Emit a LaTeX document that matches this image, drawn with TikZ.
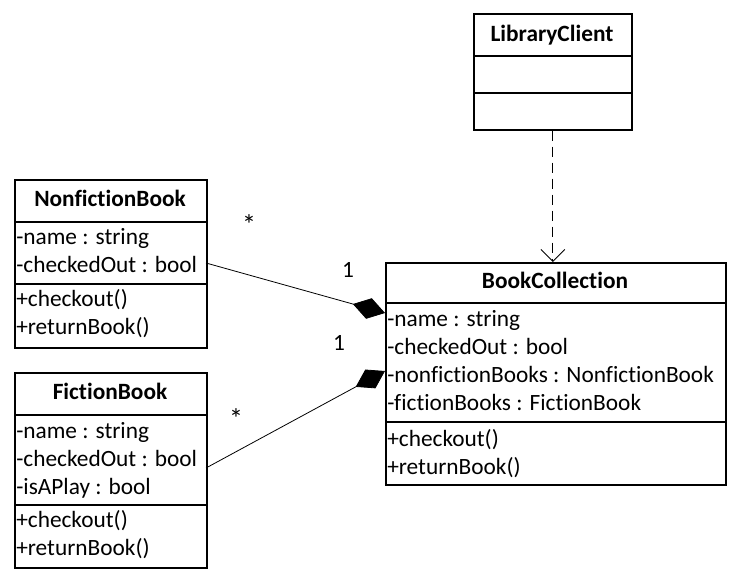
\documentclass[tikz,border=0pt]{standalone}
\usepackage{fontspec}
\setmainfont{Carlito}[Ligatures=CommonOff]
\usetikzlibrary{arrows.meta}
\begin{document}
\begin{tikzpicture}[x=0.75pt,y=-0.75pt,
  classbox/.style={draw, line width=1.3pt, inner sep=0pt, anchor=north west},
  divider/.style={line width=1.3pt},
  member/.style={anchor=west, inner sep=0pt, font=\fontsize{17.5}{21}\selectfont, text height=0.95em, text depth=0pt},
  title/.style={inner sep=0pt, font=\bfseries\fontsize{17.5}{21}\selectfont, text height=0.95em, text depth=0pt},
  mult/.style={inner sep=0pt, font=\fontsize{17.5}{21}\selectfont},
  star/.style={inner sep=0pt, font=\fontsize{21}{24}\selectfont},
  comp/.style={line width=0.6pt, -{Diamond[length=25pt,width=16pt]}},
  dep/.style={line width=0.6pt, dash pattern=on 7.5pt off 4.5pt, -{Straight Barb[length=9pt,width=18pt,line width=0.6pt]}}
]
\useasboundingbox (0,0) rectangle (736,574);

% LibraryClient
\node[classbox, minimum width=118.5pt, minimum height=87pt] (lc) at (473,13) {};
\draw[divider] (473,56) -- (631,56);
\draw[divider] (473,93) -- (631,93);
\node[title] (lct) at (552,35) {LibraryClient};

% NonfictionBook
\node[classbox, minimum width=144pt, minimum height=126pt] (nf) at (14,179) {};
\draw[divider] (14,222) -- (206,222);
\draw[divider] (14,284) -- (206,284);
\node[title] (nft) at (110,200) {NonfictionBook};
\node[member] (nf1) at (16,238) {-name : string};
\node[member] (nf2) at (16,266) {-checkedOut : bool};
\node[member] (nf3) at (16,300) {+checkout()};
\node[member] (nf4) at (16,328) {+returnBook()};

% FictionBook
\node[classbox, minimum width=144pt, minimum height=146.25pt] (fb) at (14,372) {};
\draw[divider] (14,415) -- (206,415);
\draw[divider] (14,505) -- (206,505);
\node[title] (fbt) at (110,393) {FictionBook};
\node[member] (fb1) at (16,432) {-name : string};
\node[member] (fb2) at (16,460) {-checkedOut : bool};
\node[member] (fb3) at (16,488) {-isAPlay : bool};
\node[member] (fb4) at (16,521) {+checkout()};
\node[member] (fb5) at (16,549) {+returnBook()};

% BookCollection
\node[classbox, minimum width=255pt, minimum height=166.5pt] (bc) at (385,262) {};
\draw[divider] (385,303) -- (725,303);
\draw[divider] (385,422) -- (725,422);
\node[title] (bct) at (555,282) {BookCollection};
\node[member] (bc1) at (387,320) {-name : string};
\node[member] (bc2) at (387,348) {-checkedOut : bool};
\node[member] (bc3) at (387,376) {-nonfictionBooks : NonfictionBook};
\node[member] (bc4) at (387,404) {-fictionBooks : FictionBook};
\node[member] (bc5) at (387,440) {+checkout()};
\node[member] (bc6) at (387,468) {+returnBook()};

% connectors
\coordinate (nfR) at (206,263);
\coordinate (bcL1) at (385,313);
\coordinate (fbR) at (206,468);
\coordinate (bcL2) at (385,371);
\draw[comp] (nfR) -- (bcL1);
\draw[comp] (fbR) -- (bcL2);
\draw[dep] (lc.south) -- (lc.south |- bc.north);

% multiplicities
\node[star] (m1) at (249,225) {*};
\node[mult] (m2) at (348,270) {1};
\node[mult] (m3) at (339,343) {1};
\node[star] (m4) at (236,419) {*};
\end{tikzpicture}
\end{document}
